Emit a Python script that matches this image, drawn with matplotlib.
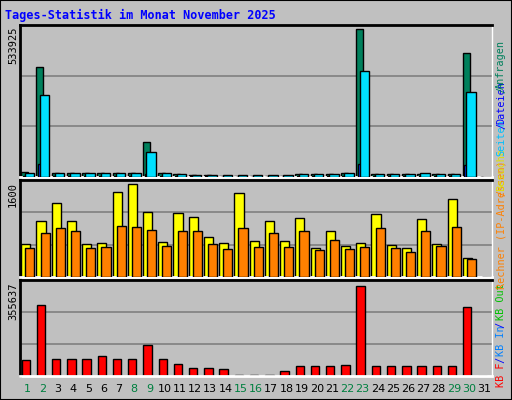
import matplotlib
matplotlib.use("Agg")
import matplotlib.pyplot as plt
import numpy as np

days = list(range(1, 32))
weekend = [1, 2, 8, 9, 15, 16, 22, 23, 29, 30]
anfragen = [17000, 386000, 15000, 15000, 15000, 15000, 15000, 15000, 123000, 15000, 12000, 8000, 8000, 5000, 4000,
            4000, 4000, 5000, 10000, 10000, 10000, 15000, 520000, 10000, 10000, 10000, 12000, 10000, 10000, 436000, 0]
dateien = [4000, 46000, 3000, 3000, 3000, 3000, 3000, 3000, 12000, 3000, 3000, 2000, 2000, 1500, 1000,
           1000, 1000, 1500, 2000, 2000, 2000, 3000, 46000, 2000, 2000, 2000, 3000, 2000, 2000, 42000, 0]
seiten = [15000, 288000, 15000, 15000, 13000, 14000, 14000, 14000, 88000, 13000, 11000, 8000, 8000, 6000, 6000,
          6000, 6000, 6000, 10000, 10000, 10000, 13000, 372000, 12000, 12000, 12000, 13000, 12000, 12000, 299000, 0]
besuche = [544, 924, 1220, 924, 544, 561, 1402, 1534, 1072, 577, 1056, 990, 660, 561, 1386,
           594, 919, 594, 968, 473, 753, 506, 561, 1039, 522, 473, 951, 539, 1281, 308, 0]
rechner = [478, 726, 808, 759, 478, 495, 841, 825, 775, 511, 759, 759, 544, 462, 808,
           495, 726, 490, 753, 445, 610, 462, 490, 803, 478, 412, 753, 506, 819, 292, 0]
kbf = [59000, 267000, 65000, 65000, 65000, 76000, 65000, 65000, 117000, 65000, 47000, 32000, 32000, 25000, 4000,
       4000, 4000, 18000, 37000, 37000, 37000, 41000, 341000, 37000, 37000, 37000, 37000, 37000, 37000, 259000, 0]
max_top, max_mid, max_bot = 533925, 1600, 355637

BG = "#C0C0C0"
W, H = 512, 400
fig = plt.figure(figsize=(W/100, H/100), dpi=100, facecolor=BG)
fig.patches.append(plt.Rectangle((0, 0), 1, 1, transform=fig.transFigure, fill=False,
                                 edgecolor="black", lw=1.5))

def add_ax(top, bottom):
    ax = fig.add_axes([20/W, 1-bottom/H, 472/W, (bottom-top)/H])
    ax.set_facecolor(BG)
    ax.set_xlim(0.5, 31.5)
    for s in ax.spines.values():
        s.set_color("black")
    ax.spines["bottom"].set_color("white"); ax.spines["bottom"].set_linewidth(2)
    ax.spines["right"].set_color("white"); ax.spines["right"].set_linewidth(1)
    ax.spines["left"].set_linewidth(2)
    ax.spines["top"].set_linewidth(2)
    ax.set_xticks([]); ax.set_yticks([])
    return ax

def ylabel(val, top):
    fig.text(13/W, 1-(top+2)/H, str(val), rotation=90, ha="center", va="top",
             family="DejaVu Sans Mono", fontsize=7.5)

x = np.array(days, dtype=float)
kw = dict(edgecolor="black", linewidth=1, align="edge")

ax1 = add_ax(25, 177)
ax1.set_ylim(0, max_top)
for g in (1/3, 2/3):
    ax1.axhline(max_top*g, color="#808080", lw=1.2, zorder=0)
ax1.bar(x-0.42, anfragen, width=0.45, color="#00805C", zorder=2, **kw)
ax1.bar(x-0.32, dateien, width=0.2, color="#0040FF", zorder=3, **kw)
ax1.bar(x-0.2, seiten, width=0.62, color="#00E0FF", zorder=4, **kw)
ylabel(max_top, 25)

ax2 = add_ax(180, 277)
ax2.set_ylim(0, max_mid)
for g in (1/3, 2/3):
    ax2.axhline(max_mid*g, color="#808080", lw=1.2, zorder=0)
ax2.bar(x-0.42, besuche, width=0.6, color="#FFFF00", zorder=2, **kw)
ax2.bar(x-0.15, rechner, width=0.6, color="#FF8000", zorder=3, **kw)
ylabel(max_mid, 180)

ax3 = add_ax(280, 376)
ax3.set_ylim(0, max_bot*1.02)
for g in (1/3, 2/3):
    ax3.axhline(max_bot*1.02*g, color="#808080", lw=1.2, zorder=0)
ax3.bar(x-0.4, kbf, width=0.55, color="#FF0000", zorder=2, **kw)
ylabel(max_bot, 280)
for d in days:
    ax3.text(d, -0.08, str(d), transform=ax3.get_xaxis_transform(), ha="center", va="top",
             fontsize=8, color="#008040" if d in weekend else "black")

fig.text(5/W, 1-15/H, "Tages-Statistik im Monat November 2025", color="#0000FF",
         family="DejaVu Sans Mono", fontweight="bold", fontsize=8.5, va="center", ha="left")

# right legend (rotated, bottom to top)
parts = [("KB F", "#FF0000"), (" / ", "#0000FF"), ("KB In", "#0080FF"), (" / ", "#0000FF"),
         ("KB Out", "#00C000"), (" ", "black"), ("Rechner (IP-Adressen)", "#FF8000"), ("/", "#FF8000"),
         ("Besuche", "#E0E000"), (" ", "black"), ("Seiten", "#00C0FF"), ("/", "#0000FF"),
         ("Dateien", "#0000FF"), ("/", "#00805C"), ("Anfragen", "#00805C")]
ypix = 387
cw = 4.45
for t, c in parts:
    fig.text(501/W, 1-ypix/H, t, rotation=90, color=c, family="DejaVu Sans Mono", fontsize=7.3,
             ha="center", va="bottom")
    ypix -= cw*len(t)

fig.savefig("out.png", dpi=100, facecolor=BG)
